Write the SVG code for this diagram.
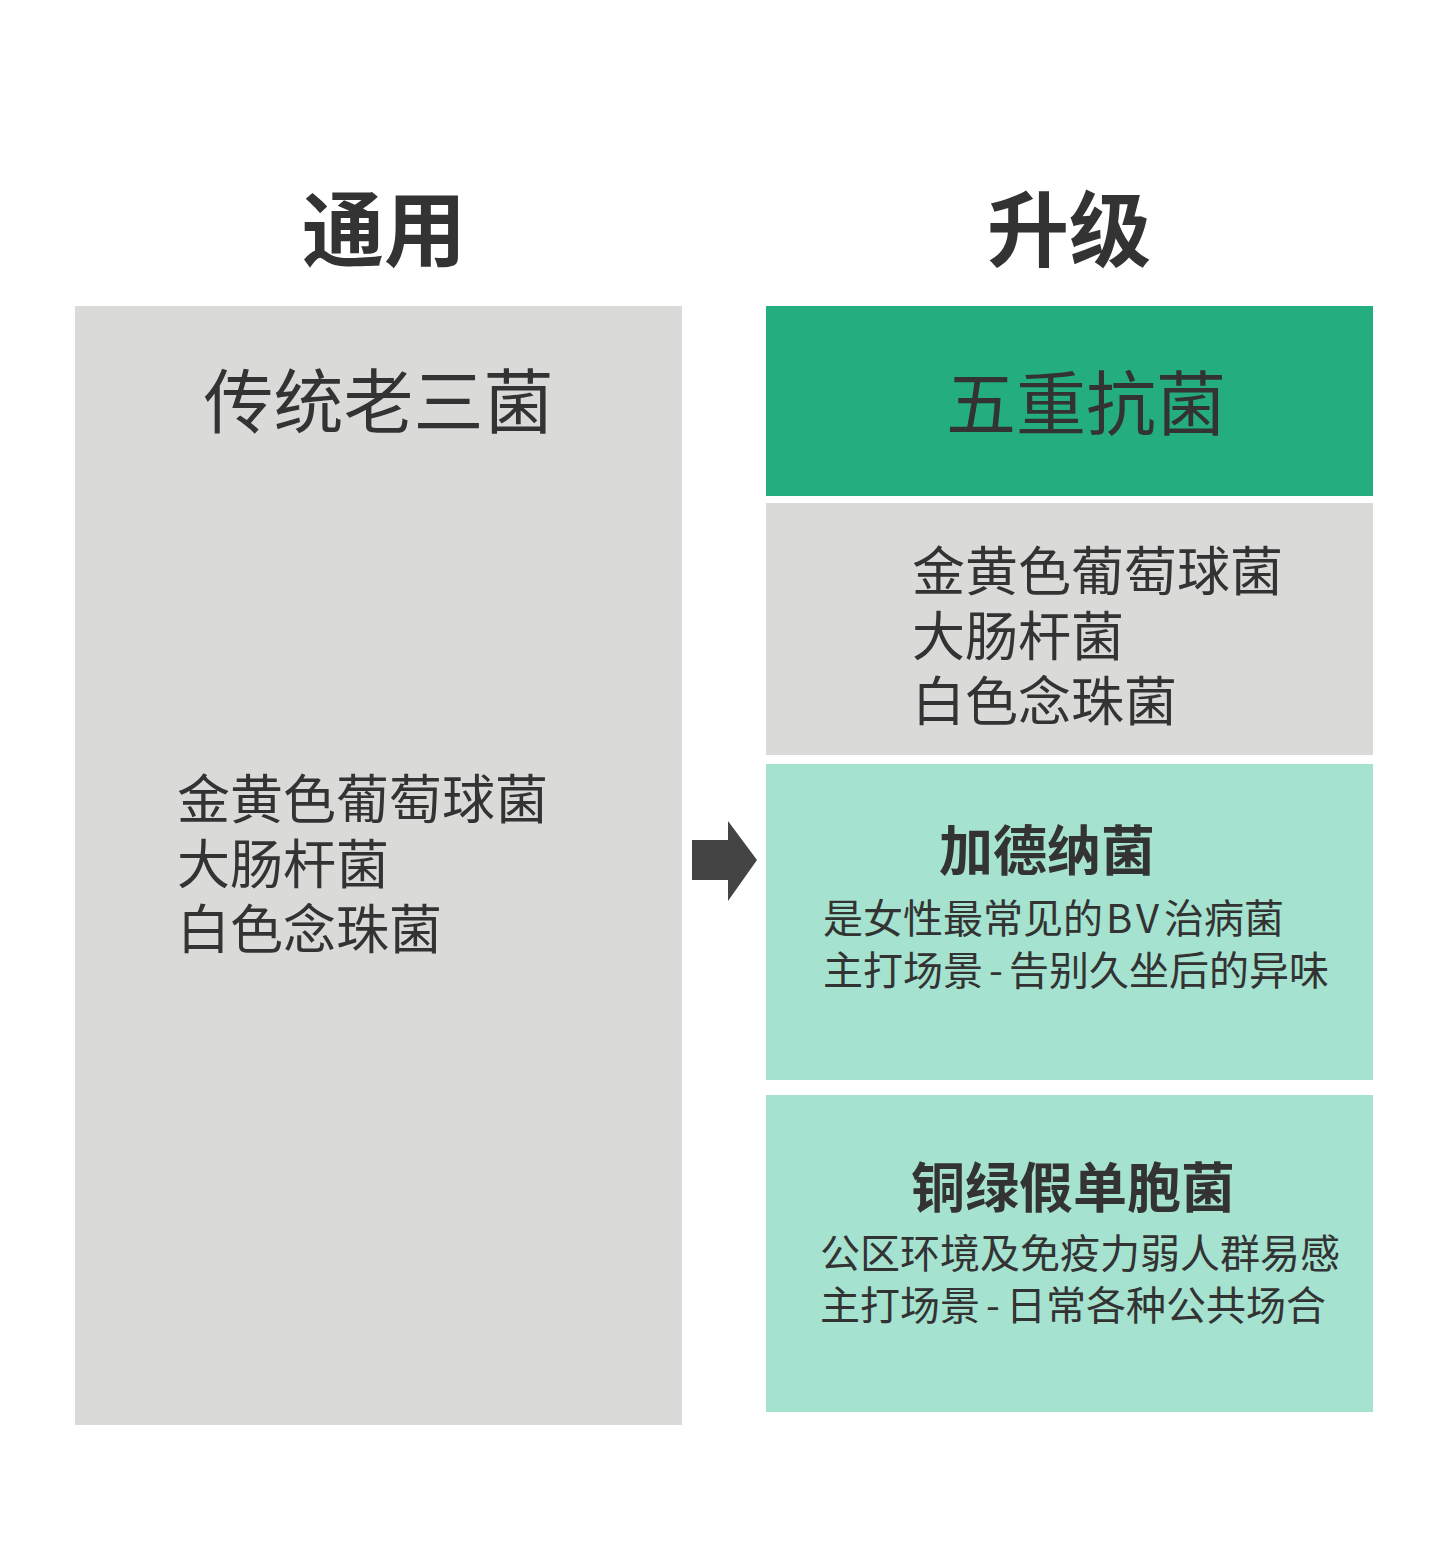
<svg xmlns="http://www.w3.org/2000/svg" width="1440" height="1559" viewBox="0 0 1440 1559">
<style>
text{font-family:"Noto Sans CJK SC","Noto Sans",sans-serif;fill:#333333}
.h{font-size:82px;font-weight:700}
.t{font-size:70px}
.l{font-size:53px}
.b{font-size:54px;font-weight:700}
.s{font-size:40px}
.grey{fill:#dadad9}
.teal{fill:#a5e2cf}
</style>
<rect width="1440" height="1559" fill="#ffffff"/>
<g id="head-left"><text class="h" x="302" y="260">通用</text></g>
<g id="head-right"><text class="h" x="987" y="260">升级</text></g>
<g id="left-box">
<rect class="grey" x="75" y="306" width="607" height="1119"/>
<text class="t" x="378.5" y="428" text-anchor="middle">传统老三菌</text>
<text class="l"><tspan x="177" y="819">金黄色葡萄球菌</tspan><tspan x="177" y="884">大肠杆菌</tspan><tspan x="177" y="949">白色念珠菌</tspan></text>
</g>
<g id="connectors">
<polygon points="692,840 728,840 728,821 757,860 728,901 728,880 692,880" fill="#444444"/>
</g>
<g id="five-box">
<rect x="766" y="306" width="607" height="190" fill="#24ae80"/>
<text class="t" x="946" y="430">五重抗菌</text>
</g>
<g id="common-box">
<rect class="grey" x="766" y="503" width="607" height="252"/>
<text class="l"><tspan x="912" y="591">金黄色葡萄球菌</tspan><tspan x="912" y="656">大肠杆菌</tspan><tspan x="912" y="721">白色念珠菌</tspan></text>
</g>
<g id="gardnerella-box">
<rect class="teal" x="766" y="764" width="607" height="316"/>
<text class="b" x="939" y="871">加德纳菌</text>
<text class="s"><tspan x="823" y="933">是女性最常见的<tspan dx="3">B</tspan><tspan dx="4">V</tspan><tspan dx="5">治病菌</tspan></tspan><tspan x="823" y="985">主打场景<tspan dx="6">-</tspan><tspan dx="6">告别久坐后的异味</tspan></tspan></text>
</g>
<g id="pseudomonas-box">
<rect class="teal" x="766" y="1095" width="607" height="317"/>
<text class="b" x="911" y="1208">铜绿假单胞菌</text>
<text class="s"><tspan x="820" y="1268">公区环境及免疫力弱人群易感</tspan><tspan x="820" y="1320">主打场景<tspan dx="6">-</tspan><tspan dx="6">日常各种公共场合</tspan></tspan></text>
</g>
</svg>
